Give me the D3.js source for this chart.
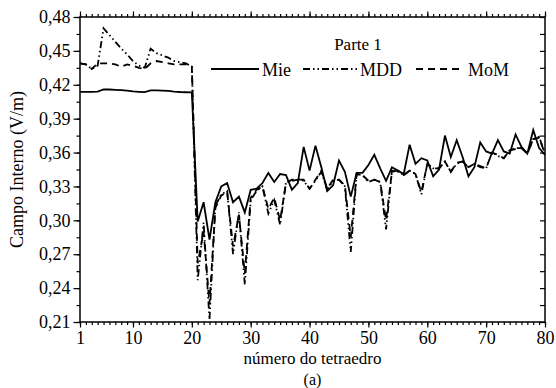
<!DOCTYPE html>
<html><head><meta charset="utf-8">
<script src="https://cdn.jsdelivr.net/npm/d3@7"></script>
<style>
body{margin:0;background:#fff}
svg{display:block}
svg text{font-family:"Liberation Serif","Tinos","Nimbus Roman","Times New Roman","DejaVu Serif",serif !important;fill:#000}
</style>
</head><body>
<svg id="c" width="556" height="388"></svg>
<script>
// ---- data ----
const mie = [
 0.4138,0.4138,0.4138,0.4140,0.4160,0.4158,0.4155,0.4152,0.4148,0.4142,0.4138,0.4135,0.4150,0.4150,0.4148,0.4146,0.4140,0.4136,0.4134,0.4132,
 0.299,0.316,0.283,0.316,0.330,0.333,0.316,0.321,0.307,0.327,0.328,0.333,0.342,0.334,0.341,0.340,0.327,0.333,0.365,0.344,
 0.366,0.347,0.326,0.331,0.353,0.343,0.321,0.342,0.342,0.349,0.358,0.346,0.335,0.347,0.344,0.341,0.367,0.350,0.355,0.353,
 0.339,0.345,0.375,0.356,0.371,0.356,0.339,0.347,0.369,0.361,0.359,0.371,0.361,0.359,0.376,0.365,0.359,0.380,0.364,0.358
];
const mdd = [
 0.439,0.438,0.434,0.437,0.470,0.464,0.458,0.452,0.447,0.441,0.437,0.435,0.452,0.448,0.446,0.444,0.441,0.440,0.439,0.436,
 0.247,0.298,0.212,0.313,0.323,0.326,0.270,0.307,0.243,0.318,0.326,0.330,0.306,0.318,0.296,0.334,0.335,0.336,0.335,0.328,
 0.335,0.343,0.327,0.335,0.336,0.330,0.272,0.341,0.340,0.334,0.336,0.334,0.292,0.344,0.343,0.340,0.344,0.341,0.323,0.350,
 0.346,0.346,0.352,0.343,0.350,0.352,0.347,0.350,0.347,0.346,0.360,0.357,0.355,0.362,0.364,0.364,0.359,0.372,0.374,0.359
];
const mom = [
 0.439,0.438,0.434,0.439,0.439,0.439,0.438,0.436,0.438,0.437,0.435,0.434,0.439,0.441,0.440,0.439,0.438,0.438,0.438,0.436,
 0.262,0.290,0.226,0.311,0.322,0.325,0.277,0.305,0.253,0.320,0.327,0.330,0.310,0.320,0.300,0.333,0.336,0.336,0.336,0.328,
 0.336,0.344,0.328,0.336,0.336,0.331,0.285,0.341,0.340,0.335,0.336,0.334,0.300,0.343,0.344,0.340,0.344,0.341,0.325,0.350,
 0.346,0.346,0.352,0.343,0.351,0.352,0.347,0.350,0.348,0.346,0.360,0.358,0.355,0.362,0.363,0.364,0.359,0.372,0.373,0.359
];
const seriesNames = ["Mie","MDD","MoM"];
const yTickValues = [0.21,0.24,0.27,0.30,0.33,0.36,0.39,0.42,0.45,0.48];
const yTickLabels = ["0,21","0,24","0,27","0,30","0,33","0,36","0,39","0,42","0,45","0,48"];
const xTickValues = [1,10,20,30,40,50,60,70,80];
const xTickLabels = ["1","10","20","30","40","50","60","70","80"];
const legendTitle = "Parte 1";
const xTitle = "número do tetraedro";
const yTitle = "Campo Interno (V/m)";
const caption = "(a)";

// ---- layout ----
const L=80, R=545, T=17, B=322;
const FONT = '"Liberation Serif","Tinos","Nimbus Roman","Times New Roman","DejaVu Serif",serif';
const svg = d3.select("#c");
const x = d3.scaleLinear().domain([1,80]).range([L,R]);
const y = d3.scaleLinear().domain([0.21,0.48]).range([B,T]);

const xMinor = d3.range(1,81);
const yMinor = d3.range(0,19).map(k=>+(0.21+k*0.015).toFixed(3));

function styleAxis(g){
  g.attr("font-family",FONT);
  g.select(".domain").remove();
  g.selectAll(".tick line").attr("stroke","#000").attr("stroke-width",1.2);
  g.selectAll("text").attr("font-size",18).attr("fill","#000").attr("font-family",FONT);
}
// left
svg.append("g").attr("transform",`translate(${L},0)`)
  .call(d3.axisLeft(y).tickValues(yMinor).tickSize(3.5).tickFormat("")).call(styleAxis);
svg.append("g").attr("transform",`translate(${L},0)`)
  .call(d3.axisLeft(y).tickValues(yTickValues).tickSize(6.5).tickPadding(3)
    .tickFormat((d,i)=>yTickLabels[i])).call(styleAxis);
// right (inward)
svg.append("g").attr("transform",`translate(${R},0)`)
  .call(d3.axisRight(y).tickValues(yMinor).tickSize(-5).tickFormat("")).call(styleAxis);
// bottom
svg.append("g").attr("transform",`translate(0,${B})`)
  .call(d3.axisBottom(x).tickValues(xMinor).tickSize(3).tickFormat("")).call(styleAxis);
const xb = svg.append("g").attr("transform",`translate(0,${B})`)
  .call(d3.axisBottom(x).tickValues(xTickValues).tickSize(5.5).tickPadding(4)
    .tickFormat((d,i)=>xTickLabels[i])).call(styleAxis);
// top
svg.append("g").attr("transform",`translate(0,${T})`)
  .call(d3.axisTop(x).tickValues(xMinor).tickSize(3).tickFormat("")).call(styleAxis);
svg.append("g").attr("transform",`translate(0,${T})`)
  .call(d3.axisTop(x).tickValues(xTickValues).tickSize(5.5).tickFormat("")).call(styleAxis);

// frame
svg.append("rect").attr("x",L).attr("y",T).attr("width",R-L).attr("height",B-T)
  .attr("fill","none").attr("stroke","#000").attr("stroke-width",1.5);

// clip
svg.append("clipPath").attr("id","clip").append("rect")
  .attr("x",L).attr("y",T).attr("width",R-L).attr("height",B-T);

const styles = {
  Mie:{dash:null},
  MDD:{dash:"7,3,1.5,3,1.5,3"},
  MoM:{dash:"7,5"}
};
const data = {Mie:mie, MDD:mdd, MoM:mom};
const line = d3.line().x((d,i)=>x(i+1)).y(d=>y(d));
const plot = svg.append("g").attr("clip-path","url(#clip)");
["MoM","MDD","Mie"].forEach(name=>{
  plot.append("path").datum(data[name]).attr("d",line)
    .attr("fill","none").attr("stroke","#000").attr("stroke-width",1.8)
    .attr("stroke-linejoin","miter").attr("stroke-dasharray",styles[name].dash);
});

// legend
svg.append("text").attr("x",358).attr("y",50).attr("text-anchor","middle")
  .attr("font-family",FONT).attr("font-size",17).text(legendTitle);
const legendItems = [
  {name:"Mie", x1:211, x2:259, tx:262},
  {name:"MDD", x1:303, x2:358, tx:360},
  {name:"MoM", x1:416, x2:464, tx:468}
];
legendItems.forEach(it=>{
  svg.append("line").attr("x1",it.x1).attr("x2",it.x2).attr("y1",69).attr("y2",69)
    .attr("stroke","#000").attr("stroke-width",1.8).attr("stroke-dasharray",styles[it.name].dash);
  svg.append("text").attr("x",it.tx).attr("y",76).attr("font-family",FONT)
    .attr("font-size",18).text(it.name);
});

// titles
svg.append("text").attr("x",(L+R)/2).attr("y",364).attr("text-anchor","middle")
  .attr("font-family",FONT).attr("font-size",17).text(xTitle);
svg.append("text").attr("x",(L+R)/2).attr("y",385).attr("text-anchor","middle")
  .attr("font-family",FONT).attr("font-size",16).text(caption);
svg.append("text").attr("transform",`translate(23,${(T+B)/2}) rotate(-90)`)
  .attr("text-anchor","middle").attr("font-family",FONT).attr("font-size",18).text(yTitle);
</script>
</body></html>
